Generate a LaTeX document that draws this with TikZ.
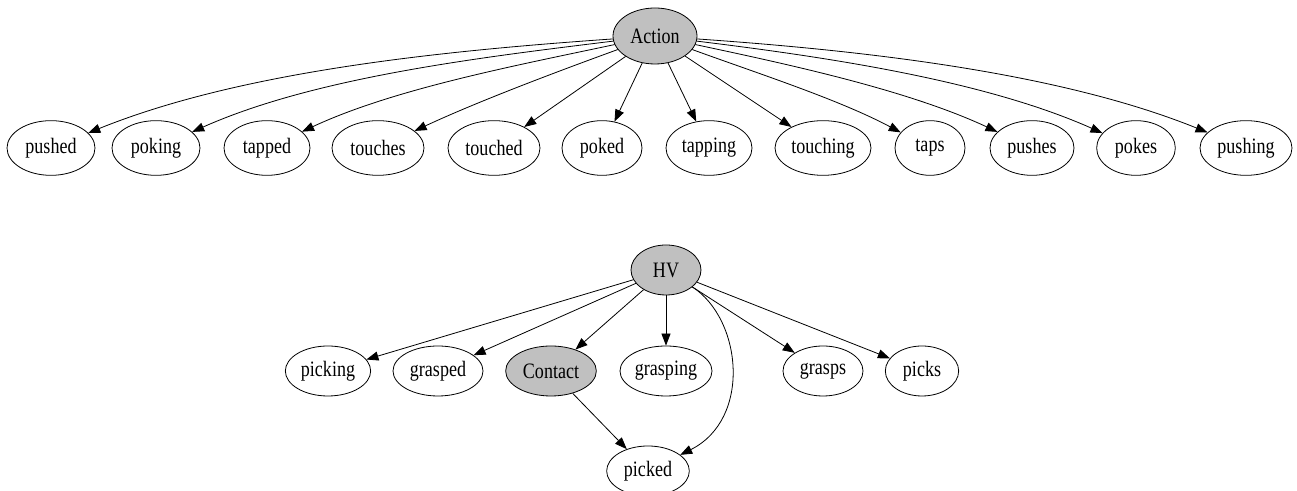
\documentclass[tikz,border=0pt]{standalone}
\usepackage{fontspec}
\setmainfont{Liberation Serif}[FakeStretch=0.82]
\usetikzlibrary{shapes.geometric,arrows.meta}
\definecolor{nodegray}{RGB}{192,192,192}
\tikzset{
  word/.style={ellipse, draw, line width=0.6pt, inner sep=0pt,
    font=\fontsize{16.5}{18}\selectfont},
  toprow/.style={word, minimum height=41pt},
  lowrow/.style={word, minimum height=37.5pt},
  hub/.style={fill=nodegray},
  edge/.style={line width=0.6pt, -{Triangle[length=9pt,width=6.8pt]}}
}
\begin{document}
\begin{tikzpicture}[x=0.75pt,y=0.75pt]
\useasboundingbox (0,0) rectangle (1297,491);

% upper graph
\node[toprow, hub, minimum width=63pt, minimum height=42pt] (action) at (655,455) {Action};
\node[toprow, minimum width=66pt]   (pushed)   at (51,343)   {pushed};
\node[toprow, minimum width=66pt]   (poking)   at (156,343)  {poking};
\node[toprow, minimum width=64.5pt] (tapped)   at (267,343)  {tapped};
\node[toprow, minimum width=69pt]   (touches)  at (378,343)  {touches};
\node[toprow, minimum width=69pt]   (touched)  at (494,343)  {touched};
\node[toprow, minimum width=60pt]   (poked)    at (602,343)  {poked};
\node[toprow, minimum width=64.5pt] (tapping)  at (709,343)  {tapping};
\node[toprow, minimum width=72pt]   (touching) at (823,343)  {touching};
\node[toprow, minimum width=52.5pt] (taps)     at (930,343)  {taps};
\node[toprow, minimum width=63pt]   (pushes)   at (1032,343) {pushes};
\node[toprow, minimum width=59pt]   (pokes)    at (1136,343) {pokes};
\node[toprow, minimum width=69pt]   (pushing)  at (1246,343) {pushing};

\draw[edge] (action) to[out=184, in=22, looseness=0.8] (pushed);
\draw[edge] (action) to[out=187, in=24, looseness=0.8] (poking);
\draw[edge] (action) to[out=192, in=25, looseness=0.8] (tapped);
\draw[edge] (action) to[out=200, in=25, looseness=0.8] (touches);
\draw[edge] (action) -- (touched);
\draw[edge] (action) -- (poked);
\draw[edge] (action) -- (tapping);
\draw[edge] (action) -- (touching);
\draw[edge] (action) to[out=-20, in=152, looseness=0.8] (taps);
\draw[edge] (action) to[out=-12, in=155, looseness=0.8] (pushes);
\draw[edge] (action) to[out=-7, in=156, looseness=0.8] (pokes);
\draw[edge] (action) to[out=-4, in=158, looseness=0.8] (pushing);

% lower graph
\node[lowrow, hub, minimum width=52.5pt] (hv) at (666,221) {HV};
\node[lowrow, minimum width=64pt]   (picking)  at (328,120) {picking};
\node[lowrow, minimum width=67.5pt] (grasped)  at (438,120) {grasped};
\node[lowrow, hub, minimum width=68pt] (contact) at (551,120) {Contact};
\node[lowrow, minimum width=69pt]   (grasping) at (666,120) {grasping};
\node[lowrow, minimum width=60pt]   (grasps)   at (823,120) {grasps};
\node[lowrow, minimum width=55pt]   (picks)    at (922,120) {picks};
\node[lowrow, minimum width=62pt]   (picked)   at (648,20)  {picked};

\draw[edge] (hv) -- (picking);
\draw[edge] (hv) -- (grasped);
\draw[edge] (hv) -- (contact);
\draw[edge] (hv) -- (grasping);
\draw[edge] (hv) .. controls (742,172) and (752,72) .. (picked);
\draw[edge] (hv) -- (grasps);
\draw[edge] (hv) -- (picks);
\draw[edge] (contact) -- (picked);
\end{tikzpicture}
\end{document}
